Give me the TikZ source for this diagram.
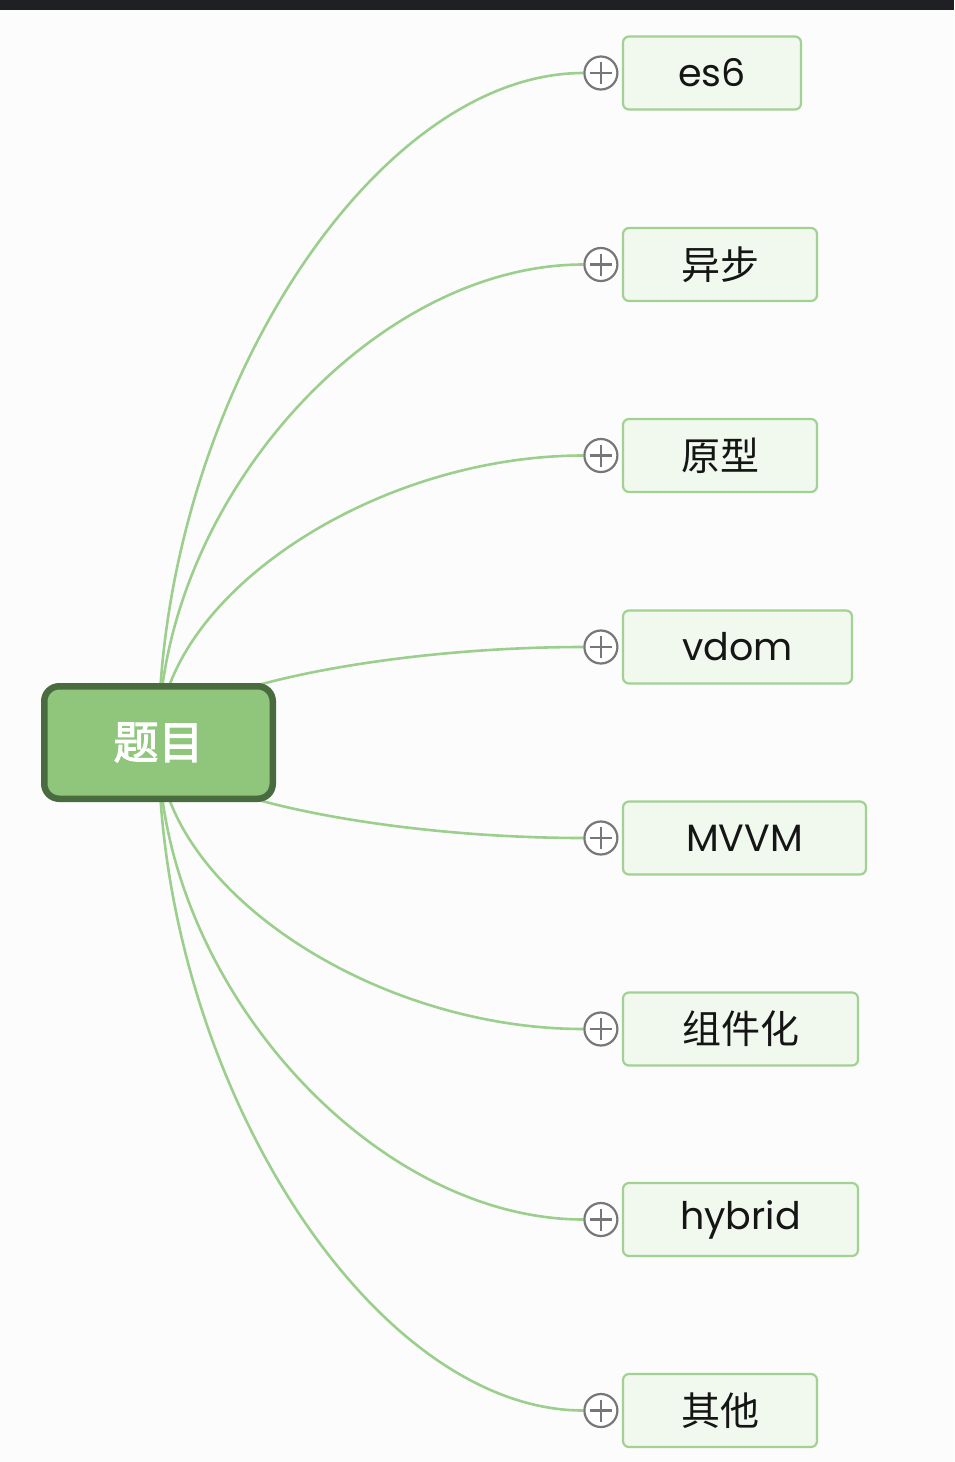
\documentclass[tikz,border=0pt]{standalone}
\usepackage{fontspec}
\setmainfont{Poppins}
\newfontfamily\cjk{Noto Sans CJK SC}
\newfontfamily\cjkheavy[FakeBold=2.5]{Noto Sans CJK SC}
\usetikzlibrary{calc,backgrounds}
\definecolor{bg}{HTML}{FCFCFC}
\definecolor{topbar}{HTML}{1F2023}
\definecolor{link}{HTML}{9CCF8D}
\definecolor{rootfill}{HTML}{8FC67C}
\definecolor{rootdraw}{HTML}{4A6B3F}
\definecolor{childfill}{HTML}{F1F8EE}
\definecolor{childdraw}{HTML}{A2D194}
\definecolor{plusgray}{HTML}{777777}
\definecolor{txt}{HTML}{151515}
\begin{document}
\begin{tikzpicture}[x=1pt,y=-1pt,
  rootbox/.style={draw=rootdraw, fill=rootfill, line width=6.5pt, rounded corners=15pt,
    minimum width=228.5pt, minimum height=112.5pt, inner sep=0pt, text=white,
    font=\cjkheavy\fontsize{45}{45}\selectfont},
  childbox/.style={draw=childdraw, fill=childfill, line width=2.2pt, rounded corners=6pt,
    minimum height=73pt, inner sep=0pt, text=txt, font=\fontsize{38}{38}\selectfont},
  cjktext/.style={font=\cjk\fontsize{39}{39}\selectfont},
  plusnode/.style={circle, draw=plusgray, fill=white, line width=2.2pt, minimum size=33pt, inner sep=0pt},
  plussign/.style={draw=plusgray, line width=2.2pt},
  linkline/.style={draw=link, line width=2.6pt}]
\useasboundingbox (0,0) rectangle (954,1462);
% root and children
\node[rootbox] (root) at (158.5,742.5) {题目};
\node[childbox, minimum width=178pt] (c1) at (712,73) {es6};
\node[childbox, cjktext, minimum width=194pt] (c2) at (720,264.5) {异步};
\node[childbox, cjktext, minimum width=194pt] (c3) at (720,455.5) {原型};
\node[childbox, minimum width=229pt] (c4) at (737.5,647) {vdom};
\node[childbox, minimum width=243pt] (c5) at (744.5,838) {MVVM};
\node[childbox, cjktext, minimum width=235pt] (c6) at (740.5,1029) {组件化};
\node[childbox, minimum width=235pt] (c7) at (740.5,1219.5) {hybrid};
\node[childbox, cjktext, minimum width=194pt] (c8) at (720,1410.5) {其他};
% plus markers
\foreach \i in {1,...,8}{
  \node[plusnode] (p\i) at ($(c\i.west)+(-21,0)$) {};
  \draw[plussign] ($(p\i.center)+(-11,0)$) -- ($(p\i.center)+(11,0)$);
  \draw[plussign] ($(p\i.center)+(0,-11)$) -- ($(p\i.center)+(0,11)$);
}
% background and connectors
\begin{scope}[on background layer]
  \fill[bg] (0,0) rectangle (954,1462);
  \fill[topbar] (0,0) rectangle (954,10);
  \foreach \i in {1,...,8}{
    \coordinate (m\i) at ($(root.center)!0.5!(p\i.west)$);
    \path[linkline] (root.center) .. controls (root.center |- m\i) and (m\i |- p\i.west) .. (p\i.west);
  }
\end{scope}
\end{tikzpicture}
\end{document}
